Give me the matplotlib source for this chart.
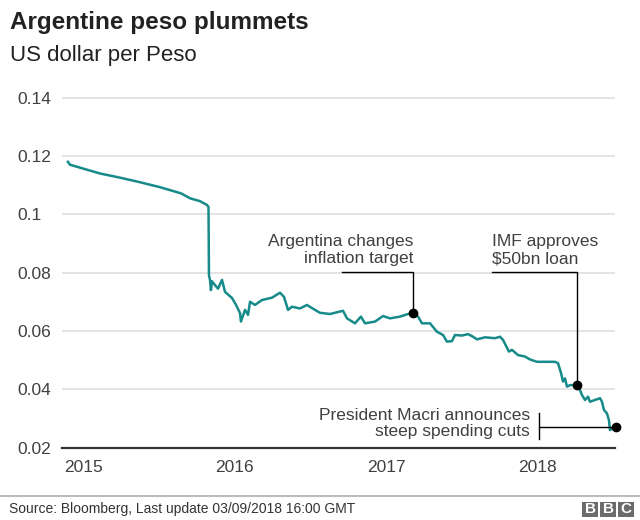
import matplotlib
matplotlib.use('Agg')
import matplotlib.pyplot as plt
from matplotlib.patches import Rectangle
from matplotlib.lines import Line2D

# ---- data (decimal years, US dollar per peso) ----
years = [2015.026, 2015.040, 2015.238, 2015.376, 2015.502, 2015.634, 2015.772,
         2015.832, 2015.898, 2015.944, 2015.954, 2015.957, 2015.964, 2015.970,
         2015.977, 2015.997, 2016.017, 2016.043, 2016.063, 2016.109, 2016.135,
         2016.162, 2016.168, 2016.195, 2016.215, 2016.228, 2016.261, 2016.307,
         2016.373, 2016.426, 2016.452, 2016.479, 2016.505, 2016.558, 2016.604,
         2016.657, 2016.690, 2016.756, 2016.842, 2016.868, 2016.921, 2016.960,
         2016.987, 2017.053, 2017.106, 2017.152, 2017.218, 2017.271, 2017.306,
         2017.337, 2017.363, 2017.416, 2017.462, 2017.502, 2017.528, 2017.561,
         2017.581, 2017.627, 2017.667, 2017.700, 2017.726, 2017.779, 2017.845,
         2017.878, 2017.898, 2017.937, 2017.957, 2017.997, 2018.043, 2018.076,
         2018.122, 2018.175, 2018.241, 2018.261, 2018.281, 2018.294, 2018.307,
         2018.320, 2018.340, 2018.388, 2018.406, 2018.419, 2018.439, 2018.459,
         2018.472, 2018.505, 2018.538, 2018.551, 2018.564, 2018.584, 2018.597,
         2018.604, 2018.624, 2018.642]
usd_per_peso = [0.1180, 0.1170, 0.1140, 0.1125, 0.1110, 0.1093, 0.1072,
                0.1055, 0.1045, 0.1032, 0.1025, 0.0790, 0.0775, 0.0740,
                0.0770, 0.0757, 0.0745, 0.0775, 0.0734, 0.0713, 0.0690,
                0.0661, 0.0632, 0.0672, 0.0655, 0.0700, 0.0689, 0.0706,
                0.0714, 0.0731, 0.0717, 0.0672, 0.0683, 0.0677, 0.0689,
                0.0672, 0.0662, 0.0658, 0.0669, 0.0643, 0.0626, 0.0649,
                0.0626, 0.0632, 0.0651, 0.0643, 0.0649, 0.0658, 0.0660,
                0.0649, 0.0626, 0.0626, 0.0597, 0.0586, 0.0563, 0.0565,
                0.0586, 0.0584, 0.0589, 0.0580, 0.0571, 0.0578, 0.0575,
                0.0580, 0.0569, 0.0529, 0.0535, 0.0517, 0.0512, 0.0502,
                0.0494, 0.0494, 0.0494, 0.0489, 0.0455, 0.0426, 0.0437,
                0.0409, 0.0414, 0.0414, 0.0397, 0.0380, 0.0363, 0.0374,
                0.0357, 0.0363, 0.0369, 0.0357, 0.0329, 0.0317, 0.0294,
                0.0260, 0.0266, 0.0269]

year_ticks = [2015, 2016, 2017, 2018]
year_labels = ['2015', '2016', '2017', '2018']
value_ticks = [0.02, 0.04, 0.06, 0.08, 0.10, 0.12, 0.14]
value_labels = ['0.02', '0.04', '0.06', '0.08', '0.1', '0.12', '0.14']

event_labels = ['Argentina changes\ninflation target',
                'IMF approves\n$50bn loan',
                'President Macri announces\nsteep spending cuts']
event_x = [2017.306, 2018.388, 2018.642]
event_y = [0.0660, 0.0414, 0.0269]

title = 'Argentine peso plummets'
subtitle = 'US dollar per Peso'
source = 'Source: Bloomberg, Last update 03/09/2018 16:00 GMT'

# ---- styling ----
plt.rcParams['font.family'] = ['Liberation Sans', 'DejaVu Sans']
LINE = '#178a8a'
TXT = '#404040'

W, H = 640, 520
fig = plt.figure(figsize=(W / 100, H / 100), dpi=100)
fig.patch.set_facecolor('white')

ymin, ymax = 0.02, 0.145
px_per_unit = 58.3 / 0.02
bottom_px = 447.5
top_px = bottom_px - (ymax - ymin) * px_per_unit
left_px, right_px = 62, 615
ax = fig.add_axes([left_px / W, 1 - bottom_px / H,
                   (right_px - left_px) / W, (bottom_px - top_px) / H])
ax.set_xlim(2014.987, 2018.637)
ax.set_ylim(ymin, ymax)
for s in ax.spines.values():
    s.set_visible(False)

ax.set_yticks(value_ticks)
ax.set_yticklabels(value_labels)
ax.set_xticks(year_ticks)
ax.set_xticklabels(year_labels)
ax.tick_params(axis='y', length=0, pad=32.4, labelsize=12.5, labelcolor=TXT)
for lab in ax.get_yticklabels():
    lab.set_horizontalalignment('left')
ax.tick_params(axis='x', length=0, pad=9, labelsize=12.5, labelcolor=TXT)
for lab in ax.get_xticklabels():
    lab.set_horizontalalignment('left')

for v in value_ticks[1:]:
    ax.axhline(v, color='#dcdcdc', lw=1.1, zorder=1)
ax.axhline(value_ticks[0], color='#333333', lw=1.6, zorder=4, clip_on=False)

ax.plot(years, usd_per_peso, color=LINE, lw=1.8, zorder=3,
        solid_joinstyle='round')

# ---- annotations ----
elbow_y = 0.0803
# 1: inflation target
ax.plot([2016.835, event_x[0], event_x[0]], [elbow_y, elbow_y, event_y[0]],
        color='black', lw=1, zorder=5)
ax.text(event_x[0], 0.0877, event_labels[0], ha='right', va='center',
        fontsize=12.5, color=TXT, linespacing=1.15)
# 2: IMF loan
ax.plot([2017.823, event_x[1], event_x[1]], [elbow_y, elbow_y, event_y[1]],
        color='black', lw=1, zorder=5)
ax.text(2017.823, 0.0877, event_labels[1], ha='left', va='center',
        fontsize=12.5, color=TXT, linespacing=1.15)
# 3: Macri
ax.plot([2018.137, 2018.137], [0.0318, 0.0229], color='black', lw=1,
        zorder=5, clip_on=False)
ax.plot([2018.137, event_x[2]], [event_y[2], event_y[2]], color='black',
        lw=1, zorder=5, clip_on=False)
ax.text(2018.076, 0.0282, event_labels[2], ha='right', va='center',
        fontsize=12.5, color=TXT, linespacing=1.15)

ax.plot(event_x, event_y, 'o', color='black', ms=6, zorder=6, clip_on=False)

# ---- titles & footer ----
fig.text(10 / W, 1 - 28.5 / H, title, fontsize=17.5, fontweight='bold',
         color='#222222', va='baseline', ha='left')
fig.text(10 / W, 1 - 61 / H, subtitle, fontsize=16, color='#222222',
         va='baseline', ha='left')

fig.add_artist(Line2D([0, 1], [1 - 496 / H, 1 - 496 / H], color='#bdbdbd',
                      lw=1.5, transform=fig.transFigure))
fig.text(9 / W, 1 - 509 / H, source, fontsize=10, color='#333333',
         va='center', ha='left')

for i, ch in enumerate('BBC'):
    x0 = 582 + i * 18
    fig.add_artist(Rectangle((x0 / W, 1 - 516.5 / H), 16 / W, 15 / H,
                             transform=fig.transFigure,
                             facecolor='#6b6b6b', edgecolor='none'))
    fig.text((x0 + 8) / W, 1 - 509.3 / H, ch, fontsize=11, fontweight='bold',
             color='white', ha='center', va='center')

fig.savefig('out.png', dpi=100)
